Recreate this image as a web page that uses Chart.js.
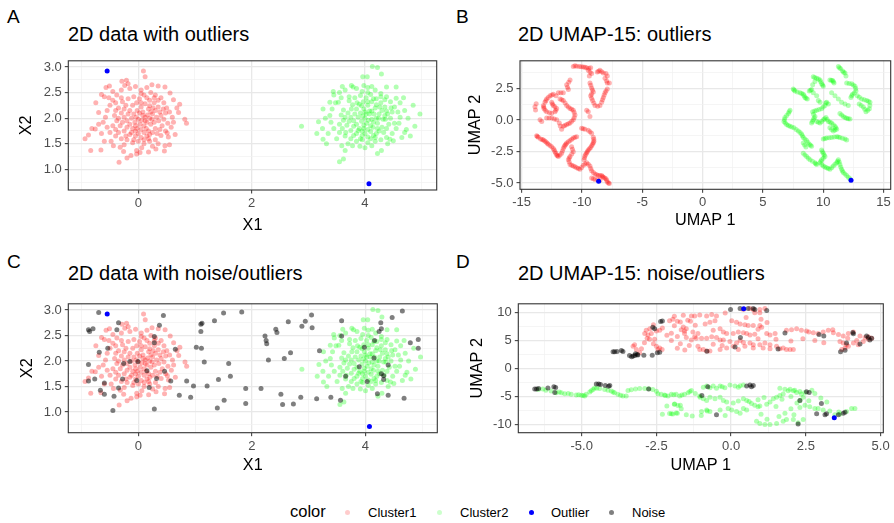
<!DOCTYPE html>
<html>
<head>
<meta charset="utf-8">
<script src="https://cdn.jsdelivr.net/npm/chart.js@4.4.1/dist/chart.umd.min.js"></script>
<style>
  body { margin: 0; width: 894px; height: 523px; position: relative; overflow: hidden; background: #fff;
         font-family: "Liberation Sans", Arial, Helvetica, sans-serif; }
  .txt { position: absolute; white-space: nowrap; line-height: 1; color: #000; }
  canvas { position: absolute; }
  .dot { position: absolute; width: 5px; height: 5px; border-radius: 50%; }
</style>
</head>
<body>

<div class="txt" style="left:7px;top:7px;font-size:19px">A</div>
<div class="txt" style="left:68px;top:24px;font-size:20px">2D data with outliers</div>
<div class="txt" style="left:456px;top:7px;font-size:19px">B</div>
<div class="txt" style="left:518px;top:24px;font-size:20px">2D UMAP-15: outliers</div>
<div class="txt" style="left:7px;top:252px;font-size:19px">C</div>
<div class="txt" style="left:68px;top:263px;font-size:20px">2D data with noise/outliers</div>
<div class="txt" style="left:456px;top:252px;font-size:19px">D</div>
<div class="txt" style="left:518px;top:263px;font-size:20px">2D UMAP-15: noise/outliers</div>

<canvas id="panelA" width="440" height="190" style="left:0;top:50px"></canvas>
<canvas id="panelB" width="444" height="190" style="left:450px;top:50px"></canvas>
<canvas id="panelC" width="440" height="190" style="left:0;top:293px"></canvas>
<canvas id="panelD" width="444" height="190" style="left:450px;top:293px"></canvas>

<!-- legende commune -->
<div class="txt" style="left:290px;top:503px;font-size:16.5px">color</div>
<div class="dot" style="left:345px;top:510px;background:rgba(255,0,0,0.2)"></div>
<div class="txt" style="left:368px;top:506px;font-size:13px">Cluster1</div>
<div class="dot" style="left:436.5px;top:510px;background:rgba(0,255,0,0.2)"></div>
<div class="txt" style="left:460px;top:506px;font-size:13px">Cluster2</div>
<div class="dot" style="left:528.5px;top:510px;background:#0000ff"></div>
<div class="txt" style="left:551px;top:506px;font-size:13px">Outlier</div>
<div class="dot" style="left:609px;top:510px;background:rgba(0,0,0,0.5)"></div>
<div class="txt" style="left:632px;top:506px;font-size:13px">Noise</div>

<script>
// --- données brutes 2D (panneaux A et C) ---
const cluster1XY = [
  [0.09,2.92],[0.12,2.81],[-0.29,2.72],[-0.21,2.74],[-0.18,2.67],[-0.24,2.64],[-0.51,2.63],[-0.57,2.60],[0.24,2.65],[0.35,2.63],
  [0.47,2.61],[-0.65,2.46],[-0.60,2.42],[-0.75,2.30],[-0.70,2.11],[0.56,2.49],[0.62,2.36],[0.73,2.27],[0.71,2.11],[0.82,1.98],
  [0.85,1.90],[-0.82,1.80],[-0.76,1.79],[-0.88,1.67],[-0.94,1.60],[-0.84,1.37],[-0.66,1.38],[-0.44,1.46],[-0.32,1.43],[-0.26,1.35],
  [-0.03,1.37],[0.06,1.42],[0.18,1.34],[0.31,1.40],[0.47,1.46],[0.55,1.48],[0.46,1.36],[0.53,1.63],[0.51,1.71],[-0.13,1.27],
  [-0.20,1.22],[-0.03,1.30],[-0.34,1.14],[0.03,1.33],
  [-0.45,2.52],[-0.38,2.45],[-0.30,2.55],[-0.15,2.58],[-0.05,2.62],[0.05,2.55],[0.15,2.60],[0.22,2.50],[0.30,2.45],[0.40,2.40],
  [0.45,2.30],[0.50,2.20],[0.55,2.12],[0.60,2.02],[0.62,1.92],[0.58,1.82],[0.48,1.75],[0.40,1.66],[0.30,1.58],[0.20,1.55],
  [0.10,1.50],[0.00,1.55],[-0.10,1.52],[-0.20,1.58],[-0.30,1.60],[-0.40,1.65],[-0.50,1.72],[-0.55,1.82],[-0.62,1.92],[-0.58,2.02],
  [-0.55,2.15],[-0.50,2.25],[-0.45,2.35],[-0.52,2.40],[-0.40,2.30],[-0.35,2.20],[-0.65,1.70],[-0.70,1.88],[-0.60,1.55],[-0.48,1.55],
  [0.65,1.68],[0.68,2.20],[0.35,1.50],[-0.25,1.48],[0.25,1.45],
  [-0.30,2.10],[-0.25,2.02],[-0.20,1.95],[-0.15,1.88],[-0.10,1.80],[-0.05,1.75],[0.00,1.70],[0.05,1.78],[0.10,1.85],[0.15,1.92],
  [0.20,2.00],[0.25,2.08],[0.30,2.15],[0.35,2.22],[0.28,2.30],[0.20,2.35],[0.12,2.28],[0.05,2.22],[-0.02,2.15],[-0.08,2.08],
  [-0.15,2.15],[-0.22,2.25],[-0.28,2.32],[-0.18,2.38],[-0.08,2.42],[0.02,2.38],[0.10,2.45],[0.18,2.18],[0.08,2.05],[0.00,1.98],
  [-0.06,1.92],[0.03,1.88],[0.12,1.95],[0.22,1.88],[0.30,1.80],[0.36,1.95],[0.40,2.05],[0.42,1.85],[0.33,1.70],[0.25,1.72],
  [0.15,1.65],[0.05,1.62],[-0.05,1.65],[-0.15,1.68],[-0.25,1.75],[-0.32,1.85],[-0.38,1.95],[-0.42,2.05],[-0.35,2.00],[-0.28,1.92],
  [-0.20,1.82],[0.08,2.12],[0.16,2.06],[0.24,1.98],[-0.12,2.00],[-0.04,2.02],[0.06,1.96],[0.14,1.80],[0.20,2.24],[-0.10,2.25],
  [-0.03,2.30],[0.38,2.12],[0.45,1.98],[0.48,2.10],[-0.45,1.85],[-0.40,1.78],[0.10,1.72],[0.18,1.60],[-0.08,1.58],[0.28,2.40],
  [0.02,2.10],[0.12,2.02],[0.22,2.12],[-0.05,1.85],[0.18,1.75],[0.28,1.92],[-0.18,2.08],[-0.12,1.72],[0.32,2.02],[0.05,2.30],
  [-0.25,2.18],[0.15,2.40],[0.38,1.78],[-0.35,1.72],[0.10,1.58],[0.26,2.20],[-0.02,1.80],[0.44,2.18],[-0.30,2.40],[0.35,2.35],
  [-0.22,1.65],[0.05,2.48],[0.52,1.90],[-0.40,2.15],[0.20,1.68]
];
const cluster2XY = [
  [4.13,3.01],[4.22,2.99],[3.96,2.81],[4.04,2.81],[4.29,2.86],[3.76,2.64],[3.79,2.61],[4.12,2.62],[3.98,2.64],[4.38,2.61],
  [4.55,2.61],[3.44,2.52],[4.62,2.30],[4.55,2.39],[3.38,2.31],[3.53,2.31],[3.26,2.18],[4.97,2.08],[2.88,1.84],[3.18,1.93],
  [4.76,2.00],[4.88,1.84],[4.73,1.78],[4.70,1.72],[3.26,1.59],[3.32,1.50],[3.59,1.46],[3.65,1.37],[3.55,1.15],[3.78,1.46],
  [3.91,1.45],[4.12,1.46],[4.22,1.31],[4.29,1.37],[4.44,1.59],[4.50,1.56],[3.62,1.20],[4.80,1.65],[4.85,2.25],[3.15,1.70],
  [3.45,2.45],[3.55,2.50],[3.65,2.55],[3.85,2.58],[3.95,2.52],[4.05,2.60],[4.18,2.55],[4.28,2.48],[4.38,2.42],[4.45,2.32],
  [4.52,2.22],[4.58,2.12],[4.62,2.02],[4.60,1.90],[4.55,1.80],[4.48,1.70],[4.38,1.62],[4.28,1.58],[4.18,1.55],[4.05,1.52],
  [3.95,1.58],[3.85,1.55],[3.75,1.60],[3.65,1.65],[3.55,1.72],[3.45,1.80],[3.40,1.92],[3.38,2.05],[3.42,2.18],[3.48,2.30],
  [3.58,2.40],[3.35,1.70],[3.30,2.00],[3.50,1.60],[4.68,2.40],[4.65,1.62],[4.40,1.50],[3.70,1.50],[4.00,1.42],[3.60,2.62],
  [4.70,2.15],[3.25,1.80],
  [3.70,2.10],[3.75,2.02],[3.80,1.95],[3.85,1.88],[3.90,1.80],[3.95,1.75],[4.00,1.70],[4.05,1.78],[4.10,1.85],[4.15,1.92],
  [4.20,2.00],[4.25,2.08],[4.30,2.15],[4.35,2.22],[4.28,2.30],[4.20,2.38],[4.12,2.32],[4.05,2.25],[3.98,2.18],[3.92,2.10],
  [3.85,2.18],[3.78,2.26],[3.72,2.34],[3.82,2.40],[3.92,2.44],[4.02,2.40],[4.10,2.46],[4.18,2.20],[4.08,2.08],[4.00,2.00],
  [3.94,1.94],[4.03,1.90],[4.12,1.98],[4.22,1.90],[4.30,1.82],[4.36,1.98],[4.40,2.08],[4.42,1.88],[4.33,1.72],[4.25,1.75],
  [4.15,1.66],[4.05,1.63],[3.95,1.66],[3.85,1.70],[3.75,1.76],[3.68,1.86],[3.62,1.96],[3.58,2.06],[3.65,2.02],[3.72,1.94],
  [3.80,1.84],[4.08,2.14],[4.16,2.08],[4.24,2.00],[3.88,2.02],[3.96,2.04],[4.06,1.96],[4.14,1.82],[4.20,2.26],[3.90,2.27],
  [3.97,2.32],[4.38,2.14],[4.45,2.00],[4.48,2.12],[3.55,1.88],[3.60,1.80],[4.10,1.74],[4.18,1.62],[3.92,1.60],[4.28,2.42],
  [3.86,2.30],[4.00,2.12],
  [4.02,2.08],[4.12,2.14],[3.98,1.86],[4.22,1.80],[4.32,1.98],[3.82,2.08],[3.88,1.76],[4.35,2.05],[4.05,2.32],[3.76,2.18],
  [4.15,2.38],[4.38,1.80],[3.66,1.72],[4.10,1.60],[4.26,2.22],[3.98,1.80],[4.46,2.20],[3.72,2.42],[4.35,2.36],[3.80,1.66],
  [4.05,2.50],[4.52,1.90],[3.62,2.16],[4.20,1.70],[3.94,2.24]
];
const outlierXY = [[-0.55,2.92],[4.07,0.72]];
const noiseXY = [
  [-0.70,2.95],[-0.88,2.61],[-0.80,2.63],[-0.86,2.58],[-0.35,2.75],[-0.38,2.61],[0.44,2.89],[0.37,2.70],[0.28,2.48],[0.28,2.36],
  [-0.69,2.17],[-0.54,2.25],[-0.88,1.93],[-0.26,1.95],[-0.15,1.99],[-0.01,1.99],[0.15,1.81],[0.46,1.80],[-0.03,1.62],[-0.28,1.65],
  [-0.77,1.65],[-0.88,1.61],[-0.60,1.57],[0.57,1.61],[0.32,1.66],[0.19,1.48],[-0.35,1.47],[-0.67,1.43],[-0.60,1.35],[-0.43,1.31],
  [-0.45,1.03],[0.28,1.06],[0.65,2.23],[0.85,1.61],[0.72,1.33],[0.92,1.29],[0.97,1.51],[1.10,2.72],[1.12,2.74],[1.10,2.58],
  [1.11,2.25],[1.16,1.98],[1.02,2.27],[1.21,1.51],[1.34,2.79],[1.41,1.64],[1.39,1.08],[1.50,2.94],[1.51,1.23],[1.59,1.95],
  [1.62,1.70],[1.82,2.96],[1.89,1.46],[1.89,1.17],[2.16,1.46],[2.23,2.49],[2.25,2.40],[2.26,2.34],[2.29,2.02],[2.42,2.62],
  [2.44,2.56],[2.51,1.35],[2.54,1.15],[2.57,2.05],[2.64,2.77],[2.68,2.16],[2.73,1.16],[2.86,1.29],[2.88,2.68],[2.94,2.78],
  [3.05,2.90],[3.06,2.65],[3.14,1.26],[3.19,2.20],[3.39,1.29],[3.58,2.79],[3.58,2.49],[3.56,1.23],[3.65,1.70],[3.98,2.27],
  [3.89,1.89],[4.03,1.60],[4.16,2.40],[4.24,2.58],[4.28,2.63],[4.27,2.75],[4.47,2.85],[4.65,2.98],[4.15,2.06],[4.21,1.36],
  [4.40,1.33],[4.28,1.75],[4.32,1.71],[4.32,1.64],[4.40,1.92],[4.68,1.27],[4.79,2.36],[4.93,2.42],[4.93,2.25]
];

// --- UMAP, données avec outliers (panneau B) ---
const umapOutCluster1 = [
  [-10.72,4.25],[-10.44,4.27],[-10.22,4.25],[-9.89,4.20],[-9.61,4.15],[-9.28,4.15],[-9.48,3.94],[-9.20,3.69],[-9.39,3.49],
  [-8.73,3.82],[-8.51,3.94],[-8.23,3.74],[-8.01,3.69],[-7.90,3.49],[-8.09,3.31],[-7.90,2.93],[-7.73,2.93],
  [-9.34,2.93],[-9.20,2.55],[-9.06,2.22],[-9.28,1.92],[-9.12,1.54],[-8.92,1.16],[-8.51,1.16],[-8.37,1.41],[-8.23,1.79],
  [-8.09,2.17],[-8.01,2.30],[-7.90,2.47],
  [-10.99,3.18],[-11.27,2.80],[-11.13,2.42],[-11.55,2.17],[-11.96,2.17],[-12.15,1.92],[-12.38,2.04],[-12.65,1.92],[-12.93,1.66],
  [-13.07,1.41],[-13.20,1.16],[-13.15,0.91],[-12.93,0.65],[-12.51,0.53],[-12.24,0.65],[-12.10,0.91],[-12.38,1.16],[-12.51,1.41],
  [-11.82,1.66],[-11.55,1.54],[-11.27,1.16],[-10.99,0.91],[-10.72,0.78],[-10.58,0.40],[-10.72,0.02],[-10.99,-0.23],[-11.27,-0.36],
  [-11.55,-0.49],[-11.69,-0.74],[-11.88,-0.23],[-12.10,0.02],[-12.51,0.15],[-12.93,0.15],
  [-13.48,0.02],[-13.34,-0.11],[-13.80,1.30],[-13.90,1.05],[-13.85,0.80],
  [-9.61,0.78],[-9.48,0.65],[-9.34,0.27],
  [-10.03,-0.66],[-9.75,-0.74],[-9.48,-0.82],[-9.20,-1.06],[-9.06,-1.37],[-9.01,-1.68],[-9.12,-1.93],[-9.28,-2.18],[-9.48,-2.39],
  [-9.61,-2.59],[-9.75,-2.84],[-9.83,-3.15],
  [-13.76,-1.25],[-13.62,-1.37],[-13.43,-1.50],[-13.20,-1.58],[-12.98,-1.75],[-12.79,-1.93],[-12.51,-2.13],[-12.38,-2.26],
  [-12.24,-2.51],[-12.10,-2.77],[-11.96,-2.89],[-11.69,-2.64],[-11.55,-2.26],[-11.41,-2.01],[-11.27,-1.83],[-10.99,-1.63],
  [-10.72,-1.42],[-10.44,-1.32],[-10.86,-2.13],[-10.72,-2.51],[-10.99,-2.89],[-11.13,-3.15],[-10.99,-3.53],[-10.72,-3.65],
  [-10.44,-3.78],[-10.17,-3.91],[-9.89,-3.60],[-9.61,-3.40],[-9.34,-3.65],[-9.20,-4.03],[-8.92,-4.28],[-8.65,-4.41],[-8.37,-4.41],
  [-8.23,-4.54],[-8.01,-4.66],[-7.90,-4.92],[-7.73,-5.04],[-8.51,-4.79],[-8.92,-4.72],[-9.20,-4.61],
  [-10.58,4.30],[-10.05,4.22],[-9.75,4.18],[-9.43,4.10],[-9.33,3.80],[-8.62,3.88],[-8.37,3.84],[-7.96,3.10],[-9.27,2.75],
  [-9.13,2.38],[-9.20,2.07],[-9.20,1.73],[-9.02,1.35],[-8.70,1.10],[-8.30,1.60],[-8.16,1.98],
  [-11.10,3.00],[-11.20,2.60],[-11.75,2.17],[-12.50,1.98],[-12.80,1.78],[-13.00,1.53],[-13.17,1.03],[-13.05,0.78],[-12.70,0.58],
  [-12.17,0.78],[-12.25,1.05],[-12.45,1.28],[-11.68,1.60],[-11.40,1.35],[-11.13,1.03],[-10.85,0.85],[-10.65,0.60],[-10.65,0.20],
  [-10.85,-0.10],[-11.13,-0.30],[-11.42,-0.43],[-11.80,-0.48],[-12.30,0.08],[-12.72,0.15],
  [-9.90,-0.70],[-9.34,-0.94],[-9.02,-1.53],[-9.06,-1.80],[-9.20,-2.05],[-9.38,-2.29],[-9.55,-2.49],[-9.68,-2.72],[-9.79,-3.00],
  [-13.70,-1.31],[-13.30,-1.54],[-13.09,-1.66],[-12.88,-1.84],[-12.65,-2.03],[-12.30,-2.38],[-12.17,-2.64],[-12.03,-2.83],
  [-11.82,-2.77],[-11.62,-2.45],[-11.48,-2.13],[-11.34,-1.92],[-11.13,-1.73],[-10.85,-1.52],[-10.58,-1.37],[-10.79,-2.32],
  [-10.85,-2.70],[-11.06,-3.02],[-11.06,-3.34],[-10.85,-3.59],[-10.58,-3.71],[-10.30,-3.85],[-10.03,-3.76],[-9.75,-3.50],
  [-9.48,-3.52],[-9.27,-3.84],[-9.06,-4.16],[-8.78,-4.35],[-8.51,-4.41],[-8.30,-4.48],[-8.12,-4.60],[-7.95,-4.79],[-7.80,-5.00],
  [-8.70,-4.75],[-9.06,-4.67]
];
const umapOutCluster2 = [
  [11.26,4.25],[11.45,4.07],[11.61,3.89],[11.81,3.74],[11.89,3.49],
  [9.18,3.44],[9.46,3.31],[9.74,3.18],[9.87,2.88],[10.01,2.68],[9.32,3.06],[9.13,2.80],[10.56,3.18],[10.79,3.13],[10.90,2.93],
  [7.52,2.47],[7.66,2.30],[8.08,2.17],[8.35,2.04],[8.49,1.79],[8.68,1.66],[8.85,2.30],[9.04,2.42],[9.18,2.17],
  [11.95,2.93],[12.36,2.88],[12.64,2.68],[12.72,2.30],[12.44,2.04],[12.30,1.79],[12.83,1.92],[13.19,1.66],[13.60,1.54],
  [13.88,1.41],[13.83,0.90],[13.55,0.65],[13.33,1.03],[12.99,1.28],
  [10.29,1.41],[10.43,1.28],[10.15,1.16],[9.87,0.90],[9.46,0.78],[9.13,0.65],[9.32,0.27],[9.18,0.02],[9.04,-0.24],[9.46,-0.11],
  [9.74,-0.24],[10.01,0.02],[10.23,0.20],[10.43,-0.11],[10.70,-0.24],[10.98,-0.49],[11.12,-0.74],[10.84,-0.87],[10.56,-0.62],
  [11.39,0.52],[11.67,0.27],[11.95,0.14],[12.22,0.09],
  [7.25,0.78],[7.11,0.52],[6.83,0.20],[6.75,-0.11],[6.97,-0.36],[7.25,-0.49],[7.58,-0.62],[7.94,-0.87],[8.21,-1.12],[8.35,-1.38],
  [8.63,-1.63],[8.85,-1.93],[9.04,-2.08],[8.57,-2.14],[8.35,-1.83],
  [10.01,-1.50],[10.29,-1.43],[10.70,-1.38],[11.12,-1.32],[11.39,-1.38],[11.81,-1.50],[11.95,-1.58],
  [9.87,-2.39],[10.01,-2.64],[10.15,-2.90],[9.87,-3.15],[9.74,-3.40],[10.01,-3.65],[10.29,-3.78],[10.56,-3.91],[10.84,-3.65],
  [11.12,-3.40],[11.26,-3.15],[11.39,-3.53],[11.53,-3.91],[11.67,-4.16],[11.95,-4.41],[12.22,-4.67],
  [8.35,-2.64],[8.63,-2.90],[8.91,-3.15],[9.32,-3.40],[9.46,-3.53],
  [9.46,1.92],[9.60,1.54],[9.74,1.41],[10.70,2.17],[10.98,1.92],[11.26,1.66],[11.53,1.41],[11.81,1.28],[12.08,1.16],
  [11.35,4.15],[11.70,3.80],[9.30,3.38],[9.60,3.25],[9.80,3.03],[9.95,2.78],[10.68,3.15],[10.85,3.03],[7.58,2.38],[7.85,2.23],
  [8.22,2.10],[8.42,1.92],[8.58,1.72],[8.95,2.36],[12.15,2.90],[12.50,2.78],[12.70,2.50],[12.58,2.15],[12.37,1.92],[13.00,1.80],
  [13.40,1.60],[13.75,1.48],[13.87,1.15],[13.70,0.78],[13.45,0.85],[13.15,1.15],[10.22,1.35],[10.00,1.03],[9.66,0.84],[9.30,0.72],
  [9.20,0.45],[9.25,0.15],[9.11,-0.11],[9.60,-0.18],[9.88,-0.11],[10.12,0.11],[10.33,0.05],[10.57,-0.18],[10.84,-0.37],[11.05,-0.62],
  [10.98,-0.80],[10.70,-0.75],[11.53,0.40],[11.81,0.20],[12.08,0.11],[7.18,0.65],[6.97,0.36],[6.79,0.05],[6.86,-0.24],[7.11,-0.43],
  [7.40,-0.55],[7.76,-0.75],[8.08,-1.00],[8.28,-1.25],[8.49,-1.50],[8.74,-1.78],[8.95,-2.00],[8.46,-1.98],[10.15,-1.47],[10.50,-1.40],
  [10.91,-1.35],[11.25,-1.35],[11.60,-1.44],[9.94,-2.52],[10.08,-2.77],[10.01,-3.03],[9.80,-3.28],[9.87,-3.53],[10.15,-3.72],
  [10.42,-3.85],[10.70,-3.78],[10.98,-3.52],[11.19,-3.28],[11.33,-3.34],[11.46,-3.72],[11.60,-4.04],[11.81,-4.29],[12.08,-4.54],
  [8.49,-2.77],[8.77,-3.03],[9.11,-3.28],[9.39,-3.47]
];
const umapOutOutlier = [[-8.62,-4.87],[12.31,-4.79]];

// --- UMAP, données avec bruit + outliers (panneau D) ---
const umapNoiseCluster1 = [
  [-2.72,7.08],[-2.84,6.80],[-2.89,6.23],[-2.78,5.95],[-2.67,6.23],[-2.50,6.68],[-2.39,6.80],[-2.81,5.38],[-2.73,5.20],[-2.56,5.20],
  [-2.06,8.51],[-1.95,8.80],[-1.80,8.40],[-1.67,6.91],[-1.56,6.68],[-1.50,7.08],[-1.33,9.37],[-1.22,9.37],[-1.05,9.54],[-1.36,8.40],
  [-1.28,6.51],[-1.22,5.66],[-1.17,5.38],[-1.11,6.23],[-1.56,6.23],[-1.33,5.09],[-1.11,3.95],[-1.05,3.38],[-3.28,3.95],[-3.23,4.23],
  [-3.17,3.38],[-3.06,2.80],[-3.00,3.49],[-2.50,3.95],[-2.45,3.38],[-2.39,3.66],[-2.31,3.38],
  [-0.82,9.37],[-0.65,9.65],[-0.49,9.37],[-0.54,8.51],[-0.71,8.23],[-0.87,7.95],[0.41,10.51],[0.63,10.68],[0.74,10.51],[0.96,10.51],
  [1.13,10.68],[0.79,9.94],[0.96,9.94],[0.02,8.51],[0.18,8.23],[0.30,7.95],[0.46,7.80],[0.57,7.66],[0.74,7.66],[0.96,7.66],
  [1.02,7.37],[-0.37,7.09],[-0.26,6.52],[-0.15,6.23],[0.07,6.23],[0.24,6.52],[0.41,6.35],[0.52,6.23],[0.63,5.95],[0.79,6.10],
  [1.19,6.23],[1.30,5.95],[1.47,6.23],[-0.99,5.38],[-0.82,5.38],[-0.65,5.66],[-0.49,5.52],[-0.37,5.09],[-0.26,5.09],[-0.04,4.81],
  [0.18,4.52],[0.41,4.63],[0.63,4.52],[0.74,4.23],[0.96,4.23],[1.13,4.52],[1.30,4.23],[1.52,3.95],[1.74,3.66],[1.97,3.38],
  [1.85,6.80],[2.02,6.91],[2.19,7.09],[2.35,6.80],[2.52,6.68],[2.75,6.35],[2.91,6.23],[3.08,6.52],[3.25,6.80],[3.42,6.35],
  [3.59,6.06],[3.75,5.77],[3.92,6.23],[4.09,6.52],[4.31,5.77],[4.48,5.54],[4.59,5.66],[4.70,5.38],[-0.93,3.38],[-0.82,3.09],
  [-0.71,3.09],[-0.37,3.38],[-0.15,3.66],[0.07,3.95],[0.24,3.38],[0.46,3.95],[0.74,3.66],[1.07,3.66],[1.30,3.49],[1.63,3.49],
  [1.85,3.38],[2.08,3.38],[3.64,4.81],[3.75,4.52],[3.86,4.23],[3.70,3.38],[3.81,3.66],[3.92,3.95],[4.09,4.52],[4.25,4.23],
  [4.42,4.81],[4.59,5.20],
  [-1.90,9.30],[-1.60,9.50],[-1.70,8.30],[-1.45,8.60],[-1.90,7.60],[-1.60,7.40],[-1.20,7.70],[-2.00,6.30],[-1.80,5.70],[-1.50,5.50],
  [-2.00,5.00],[-1.70,4.40],[-1.40,4.10],[-1.80,3.60],[-1.55,3.30],[-0.60,4.30],[-0.30,4.10],[0.30,5.00],[0.90,5.30],[1.50,5.20],
  [2.00,4.90],[2.40,5.30],[2.80,5.00],[3.10,4.60],[1.00,8.80],[0.50,9.10],[-0.20,9.90],[1.20,8.20],[-0.60,6.80],[0.90,7.00],
  [2.60,6.50],[3.40,6.90],[3.90,5.40],[4.20,5.00],[-2.60,7.80],[-2.30,7.20],[-2.90,4.60],[-2.60,4.40],[-2.15,5.90]
];
const umapNoiseCluster2 = [
  [-6.45,-3.75],[-6.30,-3.70],[-6.02,-4.06],[-5.85,-4.35],[-5.68,-4.35],[-5.57,-4.52],[-5.35,-4.63],[-5.18,-4.75],[-5.01,-4.80],
  [-4.90,-4.92],[-4.85,-4.63],[-4.73,-4.23],[-4.62,-3.78],[-4.57,-3.49],[-4.40,-3.60],[-4.23,-3.78],[-4.01,-4.06],[-3.90,-4.35],
  [-3.79,-4.63],[-3.62,-4.92],[-3.51,-4.92],[-3.45,-3.95],[-3.34,-3.83],[-3.06,-3.60],[-2.89,-3.60],[-2.62,-3.78],[-2.45,-4.52],
  [-2.34,-4.63],[-2.23,-4.75],[-2.11,-4.92],[-2.00,-4.63],[-1.84,-4.63],[-1.72,-4.92],[-1.56,-4.63],[-1.44,-4.35],[-1.33,-3.95],
  [-1.05,-4.92],[-1.89,-6.34],[-1.78,-6.63],[-1.67,-7.20],[-2.06,-8.06],[-1.95,-8.17],[-1.84,-7.95],
  [-0.93,-3.35],[-0.82,-3.15],[-0.71,-3.44],[-0.60,-3.15],[-0.49,-3.55],[-0.37,-3.15],[-0.21,-3.44],[-0.04,-2.98],[0.13,-3.15],
  [0.24,-3.35],[0.41,-2.98],
  [-1.04,-5.15],[-0.93,-5.43],[-0.82,-5.72],[-0.71,-5.15],[-0.54,-5.43],[-0.37,-5.15],[-0.26,-5.72],[-0.15,-6.00],[0.07,-6.17],
  [0.24,-5.83],[0.41,-5.43],[0.52,-5.72],[0.68,-6.29],[0.79,-6.57],[0.96,-6.74],
  [-0.99,-7.72],[-0.82,-7.43],[-0.71,-7.72],[-0.37,-7.43],[-0.10,-7.15],[0.02,-7.43],[0.18,-7.72],[0.41,-7.15],[0.52,-7.43],
  [0.90,-6.86],[1.19,-6.40],[1.41,-5.43],[1.52,-5.15],[1.63,-4.86],[1.74,-4.58],[1.91,-4.01],[2.08,-4.01],[2.19,-4.29],[2.35,-4.58],
  [2.41,-5.15],[2.30,-5.72],[2.47,-6.57],[2.63,-6.86],[2.80,-7.15],[2.91,-7.15],[3.08,-7.43],
  [1.63,-3.55],[1.80,-3.72],[1.97,-3.72],[2.13,-3.89],[2.30,-4.12],[2.47,-4.29],
  [0.85,-9.43],[0.96,-9.83],[1.13,-10.01],[1.30,-10.01],[1.52,-9.83],[1.74,-9.43],[1.85,-9.15],[2.08,-9.15],[2.24,-9.72],[2.41,-9.15],
  [3.47,-8.29],[3.64,-8.17],[3.86,-7.72],[4.03,-7.15],[4.14,-7.15],
  [-2.15,-6.70],[-1.90,-6.40],[-1.70,-6.60],[-2.00,-8.10],[-1.80,-8.00],[-2.30,-8.20],[-1.50,-8.30],[-1.30,-8.50],[-1.00,-8.40],
  [-0.80,-7.60],
  [-6.20,-3.90],[-5.75,-4.20],[-5.45,-4.50],[-5.10,-4.70],[-4.95,-4.85],[-4.68,-4.00],[-4.50,-3.55],[-4.12,-3.90],[-3.95,-4.20],
  [-3.70,-4.80],[-3.20,-3.70],[-2.75,-3.65],[-2.50,-4.10],[-2.20,-4.85],[-1.92,-4.70],[-1.65,-4.75],[-1.38,-4.15],[-1.20,-4.50],
  [0.30,-3.10],[-0.30,-3.30],[0.60,-5.90],[1.30,-6.00],[1.10,-5.20],[0.90,-5.60],[1.70,-5.50],[2.00,-5.00],[2.20,-6.20],[1.50,-6.80],
  [2.00,-7.20],[2.30,-7.00],[1.80,-8.00],[2.10,-8.30],[1.60,-8.60],[1.20,-9.10],[1.00,-8.20],[0.30,-8.00],[-0.20,-8.40],[2.70,-3.90],
  [2.80,-4.50],[3.00,-5.30],[3.20,-6.00],[2.60,-5.80],[3.60,-7.80],[3.30,-7.60]
];
const umapNoiseNoise = [
  [-2.36,8.39],[-2.30,8.45],[-2.62,7.37],[-2.56,7.10],[-3.95,2.97],[-3.90,2.97],[-3.82,3.00],[-3.67,3.20],[-3.62,3.00],[-3.40,2.30],
  [-3.33,2.10],[-3.28,2.20],[-3.22,2.30],[-3.12,2.40],[-3.20,2.60],[-3.14,2.50],[-2.92,2.34],[-2.64,2.34],[-2.47,2.80],[-2.39,2.90],
  [-4.51,-2.81],[-4.43,-2.81],[-4.37,-2.90],[-4.21,-3.04],[-4.06,-3.04],[-4.10,-3.20],[-6.57,-3.66],[-6.51,-3.66],[-6.44,-3.60],
  [-6.13,-3.50],[-5.93,-3.30],[-5.87,-3.40],[-5.90,-4.30],[-2.76,-3.67],
  [-0.02,10.51],[0.30,10.68],[0.57,10.68],[0.74,10.68],[0.79,10.51],[1.19,10.34],[1.80,6.34],[0.31,5.54],[0.13,3.82],[-0.81,3.08],
  [1.57,3.48],[2.94,6.05],[3.10,5.80],[4.07,6.40],[4.09,6.20],[4.53,5.77],[4.59,5.54],[4.70,5.38],[4.64,5.09],[4.31,4.34],
  [3.86,4.52],[3.81,3.26],[3.66,2.97],
  [-0.98,-4.86],[0.52,-3.15],[0.63,-2.98],[0.74,-3.04],[0.68,-3.30],[2.52,-4.18],[2.61,-4.29],[2.30,-5.72],[3.02,-6.29],[2.86,-8.11],
  [3.14,-8.29],[3.19,-8.11],[3.59,-8.29],[3.75,-8.00],[3.81,-7.85],[2.24,-9.95],[-0.49,-8.29],[-0.78,-3.30]
];
const umapNoiseOutlier = [[0.42,10.65],[3.45,-8.80]];

// graduations (majeures = avec étiquette, mineures = grille fine)
const rawXMajor = [0, 2, 4];
const rawXMinor = [-1, 1, 3, 5];
const rawYMajor = [1.0, 1.5, 2.0, 2.5, 3.0];
const rawYMinor = [0.75, 1.25, 1.75, 2.25, 2.75];
const umapOutXMajor = [-15, -10, -5, 0, 5, 10, 15];
const umapOutXMinor = [-12.5, -7.5, -2.5, 2.5, 7.5, 12.5];
const umapOutYMajor = [-5, -2.5, 0, 2.5];
const umapOutYMinor = [-3.75, -1.25, 1.25, 3.75];
const umapNoiseXMajor = [-5, -2.5, 0, 2.5, 5];
const umapNoiseXMinor = [-6.25, -3.75, -1.25, 1.25, 3.75];
const umapNoiseYMajor = [-10, -5, 0, 5, 10];
const umapNoiseYMinor = [-7.5, -2.5, 2.5, 7.5];

const FONT = '"Liberation Sans", Arial, Helvetica, sans-serif';
const RED = 'rgba(255,0,0,0.3)';
const GREEN = 'rgba(0,255,0,0.3)';
const BLUE = '#0000ff';
const GREY = 'rgba(0,0,0,0.5)';

// cadre du panneau (style theme_bw)
const panelBorder = {
  id: 'panelBorder',
  afterDatasetsDraw(chart) {
    const a = chart.chartArea;
    const ctx = chart.ctx;
    ctx.save();
    ctx.strokeStyle = '#333333';
    ctx.lineWidth = 1.1;
    ctx.strokeRect(a.left, a.top, a.right - a.left, a.bottom - a.top);
    ctx.restore();
  }
};

function toPoints(arr) {
  return arr.map(p => ({ x: p[0], y: p[1] }));
}

function layer(label, arr, color, order) {
  return {
    label: label,
    data: toPoints(arr),
    pointBackgroundColor: color,
    pointBorderWidth: 0,
    pointRadius: 2.5,
    pointHoverRadius: 2.5,
    order: order
  };
}

function axis(pos, lim, major, minor, digits, title, size, titlePad) {
  const isMajor = v => major.includes(v);
  return {
    type: 'linear',
    position: pos,
    min: lim[0],
    max: lim[1],
    afterBuildTicks: s => {
      s.ticks = major.concat(minor).sort((a, b) => a - b).map(v => ({ value: v }));
    },
    afterFit: s => {
      if (pos === 'left') s.width = size; else s.height = size;
    },
    ticks: {
      autoSkip: false,
      maxRotation: 0,
      padding: pos === 'left' ? 3 : 2,
      color: '#4d4d4d',
      font: { family: FONT, size: 13 },
      callback: v => isMajor(v) ? v.toFixed(digits) : ''
    },
    grid: {
      color: c => (c.tick && isMajor(c.tick.value)) ? '#e8e8e8' : '#f1f1f1',
      lineWidth: c => (c.tick && isMajor(c.tick.value)) ? 1.3 : 0.7,
      tickLength: 3.5,
      tickWidth: 1,
      tickColor: c => (c.tick && isMajor(c.tick.value)) ? '#333333' : 'rgba(0,0,0,0)'
    },
    border: { display: false },
    title: {
      display: true,
      text: title,
      color: '#000',
      font: { family: FONT, size: 16.25 },
      padding: titlePad
    }
  };
}

function panel(id, datasets, xs, ys, pad) {
  new Chart(document.getElementById(id), {
    type: 'scatter',
    data: { datasets: datasets },
    options: {
      responsive: false,
      animation: false,
      devicePixelRatio: 1,
      layout: { padding: pad },
      plugins: { legend: { display: false }, tooltip: { enabled: false } },
      scales: { x: xs, y: ys }
    },
    plugins: [panelBorder]
  });
}

// A : données 2D avec outliers
panel('panelA', [
  layer('Outlier', outlierXY, BLUE, 0),
  layer('Cluster2', cluster2XY, GREEN, 2),
  layer('Cluster1', cluster1XY, RED, 3)
],
  axis('bottom', [-1.2355, 5.2655], rawXMajor, rawXMinor, 0, 'X1', 50, { top: 0, bottom: 4.25 }),
  axis('left', [0.597, 3.12], rawYMajor, rawYMinor, 1, 'X2', 68.3, { top: 17.25, bottom: 0 }),
  { top: 4.3, right: 3.3, left: 0, bottom: 0 });

// B : UMAP avec outliers
panel('panelB', [
  layer('Outlier', umapOutOutlier, BLUE, 0),
  layer('Cluster2', umapOutCluster2, GREEN, 2),
  layer('Cluster1', umapOutCluster1, RED, 3)
],
  axis('bottom', [-15.14, 15.6], umapOutXMajor, umapOutXMinor, 0, 'UMAP 1', 50.7, { top: 0, bottom: 9.25 }),
  axis('left', [-5.5, 4.7], umapOutYMajor, umapOutYMinor, 1, 'UMAP 2', 70, { top: 15.75, bottom: 0 }),
  { top: 5, right: 3.3, left: 0, bottom: 0 });

// C : données 2D avec bruit et outliers
panel('panelC', [
  layer('Outlier', outlierXY, BLUE, 0),
  layer('Noise', noiseXY, GREY, 1),
  layer('Cluster2', cluster2XY, GREEN, 2),
  layer('Cluster1', cluster1XY, RED, 3)
],
  axis('bottom', [-1.2355, 5.2655], rawXMajor, rawXMinor, 0, 'X1', 50.3, { top: 0, bottom: 7.75 }),
  axis('left', [0.597, 3.12], rawYMajor, rawYMinor, 1, 'X2', 68.3, { top: 17.75, bottom: 0 }),
  { top: 4.3, right: 2.7, left: 0, bottom: 0 });

// D : UMAP avec bruit et outliers
panel('panelD', [
  layer('Outlier', umapNoiseOutlier, BLUE, 0),
  layer('Noise', umapNoiseNoise, GREY, 1),
  layer('Cluster2', umapNoiseCluster2, GREEN, 2),
  layer('Cluster1', umapNoiseCluster1, RED, 3)
],
  axis('bottom', [-7.12, 5.09], umapNoiseXMajor, umapNoiseXMinor, 1, 'UMAP 1', 50.3, { top: 0, bottom: 7.75 }),
  axis('left', [-11.49, 11.54], umapNoiseYMajor, umapNoiseYMinor, 0, 'UMAP 2', 68.3, { top: 18.25, bottom: 0 }),
  { top: 5.3, right: 10.7, left: 0, bottom: 0 });
</script>
</body>
</html>
